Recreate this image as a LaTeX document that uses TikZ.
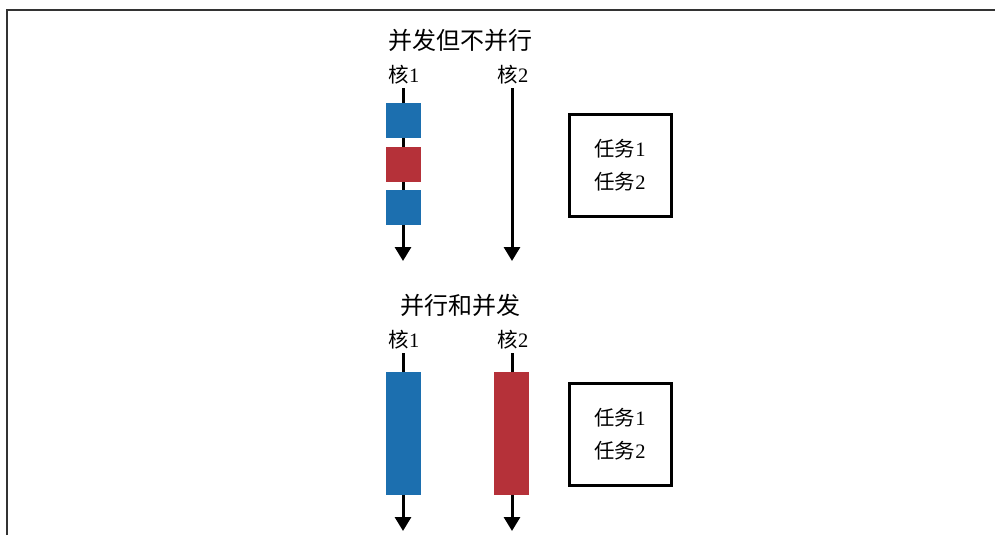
\documentclass[tikz,border=0pt]{standalone}
\usepackage{fontspec}
\setmainfont{Liberation Serif}
\newfontfamily\cjk{Noto Sans CJK SC}
\usetikzlibrary{arrows.meta}
\definecolor{taskblue}{RGB}{28,111,175}
\definecolor{taskred}{RGB}{181,49,57}
\tikzset{
  frame/.style={line width=1.6pt, draw=black!80},
  core/.style={line width=3pt, -{Triangle[width=16pt,length=14pt]}},
  blk/.style={minimum width=35pt, inner sep=0pt, draw=none},
  bluebk/.style={blk, fill=taskblue},
  redbk/.style={blk, fill=taskred},
  ttl/.style={font=\cjk\fontsize{24pt}{26pt}\selectfont},
  lbl/.style={font=\fontsize{20.5pt}{22pt}\selectfont},
  taskbox/.style={draw, line width=3pt, minimum width=102pt, minimum height=102pt, align=center, font=\fontsize{20.5pt}{33pt}\selectfont}
}
\begin{document}
\begin{tikzpicture}[x=1pt,y=-1pt]
\useasboundingbox (0,0) rectangle (995,535);
\coordinate (fl) at (7,535);
\coordinate (ftl) at (7,10);
\coordinate (ftr) at (995,10);
\draw[frame] (fl) -- (ftl) -- (ftr);

% top: concurrent but not parallel
\node[ttl] (t1) at (460,40) {并发但不并行};
\node[lbl] (a1) at (404,75) {{\cjk 核}1};
\node[lbl] (a2) at (513,75) {{\cjk 核}2};
\coordinate (a1s) at (403,88);
\coordinate (a1e) at (403,261);
\coordinate (a2s) at (512,88);
\coordinate (a2e) at (512,261);
\draw[core] (a1s) -- (a1e);
\draw[core] (a2s) -- (a2e);
\node[bluebk, minimum height=35pt] (b1) at (403.5,120.5) {};
\node[redbk, minimum height=35pt] (b2) at (403.5,164.5) {};
\node[bluebk, minimum height=35pt] (b3) at (403.5,207.5) {};
\node[taskbox] (k1) at (620,165) {{\cjk 任务}1\\{\cjk 任务}2};

% bottom: parallel and concurrent
\node[ttl] (t2) at (460,305) {并行和并发};
\node[lbl] (c1) at (404,340) {{\cjk 核}1};
\node[lbl] (c2) at (513,340) {{\cjk 核}2};
\coordinate (c1s) at (403,353);
\coordinate (c1e) at (403,531);
\coordinate (c2s) at (512,353);
\coordinate (c2e) at (512,531);
\draw[core] (c1s) -- (c1e);
\draw[core] (c2s) -- (c2e);
\node[bluebk, minimum height=123pt] (d1) at (403.5,433.5) {};
\node[redbk, minimum height=123pt] (d2) at (511.5,433.5) {};
\node[taskbox] (k2) at (620,434.5) {{\cjk 任务}1\\{\cjk 任务}2};
\end{tikzpicture}
\end{document}
